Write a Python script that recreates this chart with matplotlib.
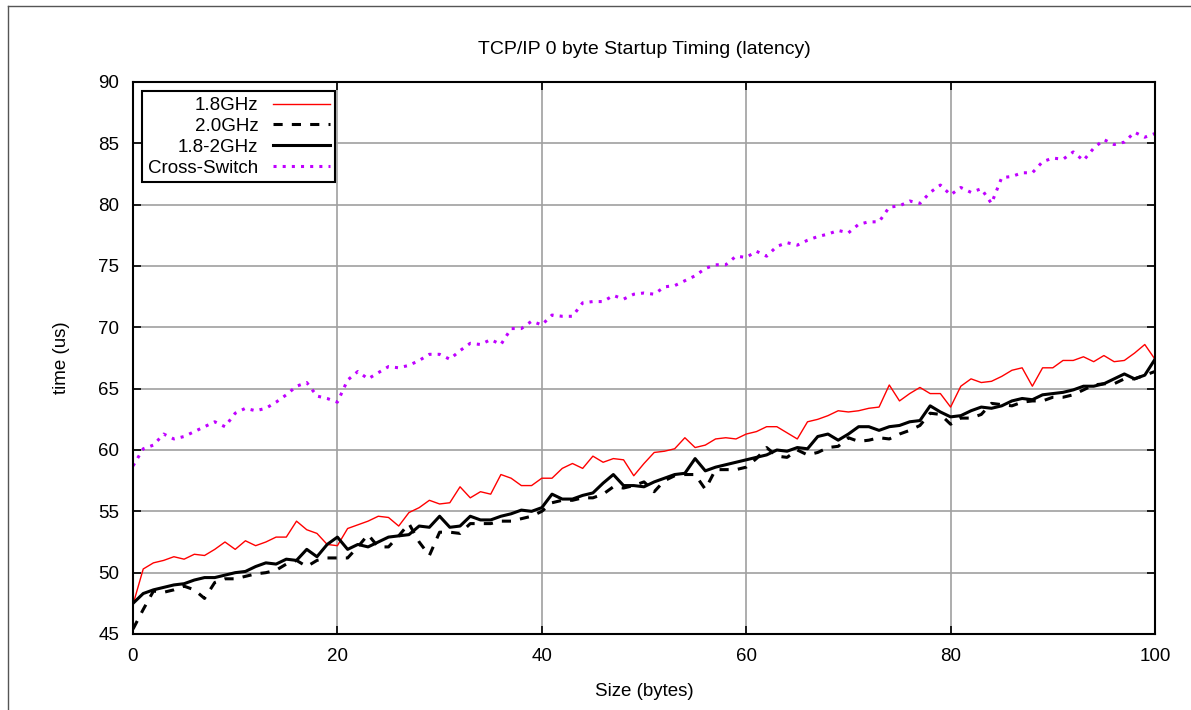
import matplotlib
matplotlib.use("Agg")
import matplotlib.pyplot as plt
from matplotlib.lines import Line2D

plt.rcParams["font.family"] = ["Liberation Sans", "DejaVu Sans"]

sizes = list(range(0, 101))

# 1.8GHz
red = [47.4, 50.3, 50.8, 51.0, 51.3, 51.1, 51.5, 51.4, 51.9, 52.5,
       51.9, 52.6, 52.2, 52.5, 52.9, 52.9, 54.2, 53.5, 53.2, 52.3,
       52.2, 53.6, 53.9, 54.2, 54.6, 54.5, 53.8, 54.9, 55.3, 55.9,
       55.6, 55.7, 57.0, 56.1, 56.6, 56.4, 58.0, 57.7, 57.1, 57.1,
       57.7, 57.7, 58.5, 58.9, 58.5, 59.5, 59.0, 59.3, 59.2, 57.9,
       58.9, 59.8, 59.9, 60.1, 61.0, 60.2, 60.4, 60.9, 61.0, 60.9,
       61.3, 61.5, 61.9, 61.9, 61.4, 60.9, 62.3, 62.5, 62.8, 63.2,
       63.1, 63.2, 63.4, 63.5, 65.3, 64.0, 64.6, 65.1, 64.6, 64.6,
       63.5, 65.2, 65.8, 65.5, 65.6, 66.0, 66.5, 66.7, 65.2, 66.7,
       66.7, 67.3, 67.3, 67.6, 67.2, 67.7, 67.2, 67.3, 67.9, 68.6,
       67.4]

# 2.0GHz
dashed = [45.4, 47.0, 48.5, 48.4, 48.6, 48.9, 48.6, 47.9, 49.2, 49.5,
          49.5, 49.7, 49.9, 50.0, 50.2, 50.7, 51.0, 50.5, 51.0, 51.2,
          51.2, 51.2, 52.1, 53.1, 52.1, 52.1, 53.0, 54.0, 52.5, 51.4,
          53.3, 53.3, 53.2, 54.0, 54.0, 54.0, 54.2, 54.2, 54.4, 54.6,
          55.0, 55.7, 55.9, 55.9, 56.1, 56.1, 56.4, 57.0, 56.9, 57.1,
          57.4, 56.6, 57.5, 57.9, 58.0, 58.0, 56.8, 58.4, 58.4, 58.4,
          58.6, 59.3, 60.2, 59.5, 59.4, 60.0, 59.6, 59.8, 60.2, 60.3,
          61.0, 60.7, 60.8, 61.0, 60.9, 61.3, 61.6, 62.0, 63.0, 62.9,
          62.1, 62.6, 62.6, 62.9, 63.8, 63.7, 63.6, 63.9, 64.0, 64.0,
          64.3, 64.3, 64.5, 64.9, 65.3, 65.4, 65.4, 65.8, 65.8, 66.1,
          66.4]

# 1.8-2GHz
solid = [47.5, 48.3, 48.6, 48.8, 49.0, 49.1, 49.4, 49.6, 49.6, 49.8,
         50.0, 50.1, 50.5, 50.8, 50.7, 51.1, 51.0, 51.9, 51.3, 52.3,
         52.9, 51.9, 52.3, 52.1, 52.5, 52.9, 53.0, 53.1, 53.8, 53.7,
         54.6, 53.7, 53.8, 54.6, 54.3, 54.3, 54.6, 54.8, 55.1, 55.0,
         55.3, 56.4, 56.0, 56.0, 56.3, 56.5, 57.3, 58.0, 57.1, 57.1,
         57.0, 57.4, 57.7, 58.0, 58.1, 59.3, 58.3, 58.6, 58.8, 59.0,
         59.2, 59.4, 59.6, 60.0, 59.9, 60.2, 60.1, 61.1, 61.3, 60.8,
         61.3, 61.9, 61.9, 61.6, 61.9, 62.0, 62.3, 62.4, 63.6, 63.1,
         62.7, 62.8, 63.2, 63.5, 63.4, 63.6, 64.0, 64.2, 64.1, 64.5,
         64.6, 64.7, 64.9, 65.2, 65.2, 65.4, 65.8, 66.2, 65.8, 66.1,
         67.4]

# Cross-Switch
cross = [58.7, 60.1, 60.4, 61.3, 60.9, 61.1, 61.5, 61.9, 62.3, 61.9,
         63.0, 63.4, 63.2, 63.4, 63.9, 64.5, 65.2, 65.5, 64.4, 64.2,
         63.9, 65.7, 66.4, 65.8, 66.3, 66.8, 66.7, 66.9, 67.3, 67.8,
         67.8, 67.4, 68.1, 68.7, 68.6, 69.0, 68.6, 69.9, 69.9, 70.5,
         70.2, 71.0, 70.9, 70.9, 72.0, 72.1, 72.1, 72.6, 72.3, 72.7,
         72.8, 72.7, 73.3, 73.4, 73.8, 74.2, 74.8, 75.1, 75.1, 75.8,
         75.7, 76.2, 75.8, 76.6, 76.9, 76.7, 77.1, 77.4, 77.6, 77.9,
         77.7, 78.4, 78.6, 78.6, 79.8, 79.9, 80.3, 80.1, 81.0, 81.6,
         80.8, 81.4, 81.0, 81.3, 80.1, 82.2, 82.3, 82.6, 82.6, 83.5,
         83.8, 83.7, 84.3, 83.6, 84.6, 85.3, 84.9, 85.1, 85.9, 85.5,
         85.8]

fig = plt.figure(figsize=(11.91, 7.10), dpi=100)
ax = fig.add_axes([133 / 1191, 76 / 710, 1022 / 1191, 552 / 710])

ax.plot(sizes, red, color="red", lw=1.0, label="1.8GHz")
ax.plot(sizes, dashed, color="black", lw=2.2, dashes=(3, 3), label="2.0GHz")
ax.plot(sizes, solid, color="black", lw=2.2, label="1.8-2GHz")
ax.plot(sizes, cross, color="#c000ff", lw=2.2, dashes=(1, 2),
        label="Cross-Switch")

ax.set_xlim(0, 100)
ax.set_ylim(45, 90)
ax.set_xticks(range(0, 101, 20))
ax.set_yticks(range(45, 91, 5))
ax.grid(True, color="#a0a0a0", lw=1.2)
ax.set_axisbelow(True)
ax.tick_params(direction="in", length=6, width=1.2, labelsize=13.5,
               top=True, right=True, pad=10)
for s in ax.spines.values():
    s.set_linewidth(1.5)

ax.set_title("TCP/IP 0 byte Startup Timing (latency)", fontsize=14, pad=20)
ax.set_xlabel("Size (bytes)", fontsize=13.5, labelpad=13)
ax.set_ylabel("time (us)", fontsize=13.5, labelpad=20)

leg = ax.legend(loc="upper left", markerfirst=False, fontsize=13.5,
                fancybox=False, framealpha=1, edgecolor="black",
                handlelength=3.0, borderaxespad=0.5, labelspacing=0.2,
                borderpad=0.3, handletextpad=0.8)
leg.get_frame().set_linewidth(1.5)

# frame of the screenshot
fig.add_artist(Line2D([8 / 1191, 1], [1 - 6 / 710, 1 - 6 / 710],
                      transform=fig.transFigure, color="#555555", lw=1))
fig.add_artist(Line2D([8 / 1191, 8 / 1191], [0, 1 - 6 / 710],
                      transform=fig.transFigure, color="#555555", lw=1))

fig.savefig("out.png", dpi=100)
